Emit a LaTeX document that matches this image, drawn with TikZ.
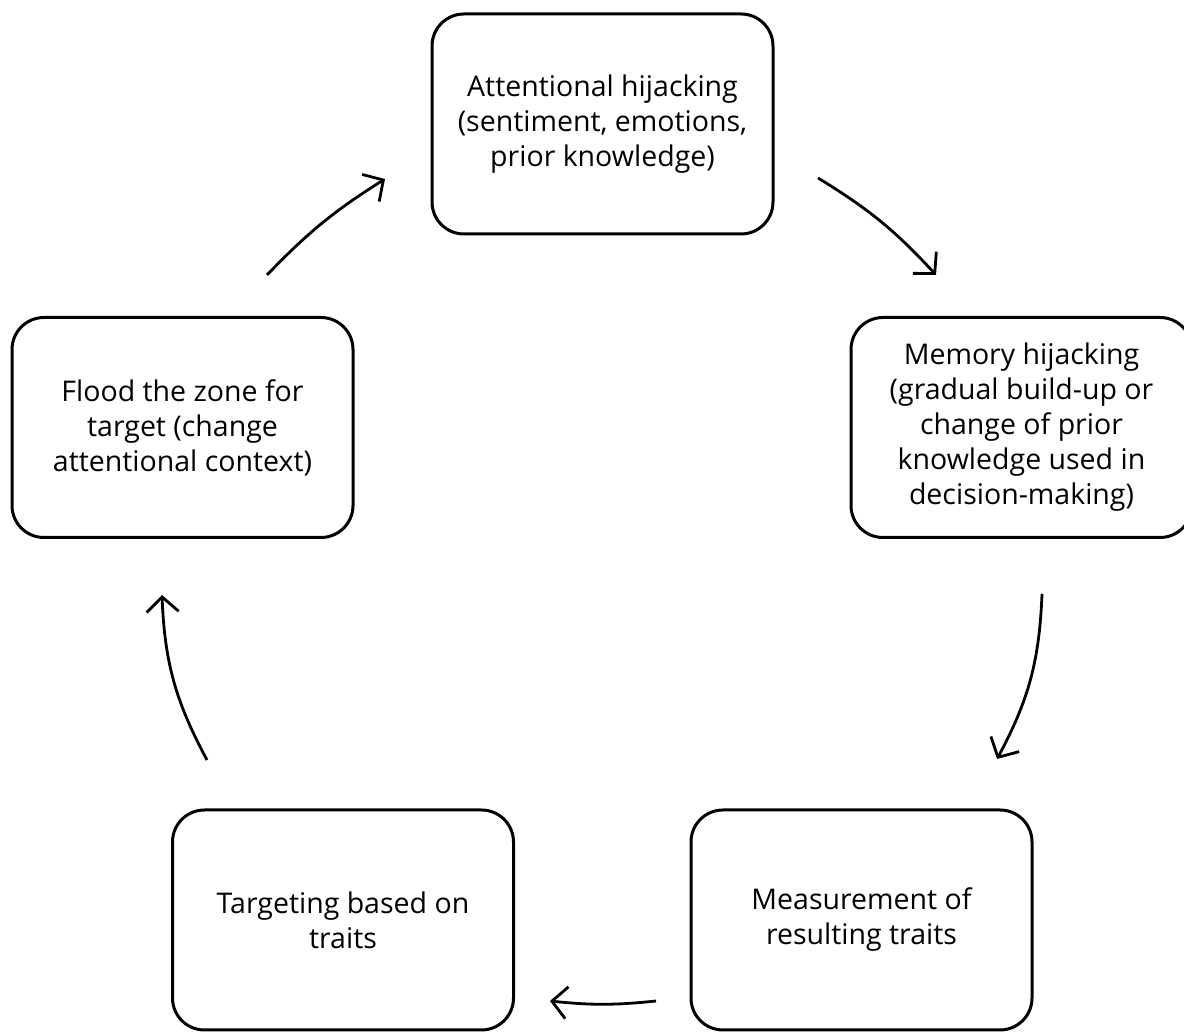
\documentclass[tikz,border=0pt]{standalone}
\usepackage{fontspec}
\setmainfont{Open Sans}
\usepackage{tikz}
\usetikzlibrary{
    arrows.meta,
    positioning
}

\begin{document}
\begin{tikzpicture}[x=1pt, y=1pt,
    stage/.style={draw, line width=3pt, rounded corners=32pt, minimum width=341pt,
        minimum height=220pt, inner sep=0pt, align=center,
        font=\fontsize{28.5}{35}\selectfont},
    flow/.style={-{Straight Barb[length=15pt, width=32pt]}, line width=2.8pt}]
    \useasboundingbox (0, 0) rectangle (1184, 1032);
    \node[stage] (att) at (602.5, 908) {Attentional hijacking\\(sentiment, emotions,\\prior knowledge)};
    \node[stage] (mem) at (1021.5, 604.5) {Memory hijacking\\(gradual build-up or\\change of prior\\knowledge used in\\decision-making)};
    \node[stage] (meas) at (861.5, 112) {Measurement of\\resulting traits};
    \node[stage] (trg) at (343, 112) {Targeting based on\\traits};
    \node[stage] (flood) at (182.5, 604.5) {Flood the zone for\\target (change\\attentional context)};
    % arrow ends, left free of the boxes
    \coordinate (att-out) at (818, 854);
    \coordinate (mem-in) at (936, 757);
    \coordinate (mem-out) at (1042, 438);
    \coordinate (meas-in) at (997, 273);
    \coordinate (meas-out) at (656, 31);
    \coordinate (trg-in) at (550, 31);
    \coordinate (trg-out) at (207, 272);
    \coordinate (flood-in) at (162, 437);
    \coordinate (flood-out) at (267, 757);
    \coordinate (att-in) at (385, 853);
    \draw
    (att-out) edge[flow, bend left=8] (mem-in)
    (mem-out) edge[flow, bend left=13] (meas-in)
    (meas-out) edge[flow, bend left=6] (trg-in)
    (trg-out) edge[flow, bend left=13] (flood-in)
    (flood-out) edge[flow, bend left=7] (att-in);
\end{tikzpicture}
\end{document}
